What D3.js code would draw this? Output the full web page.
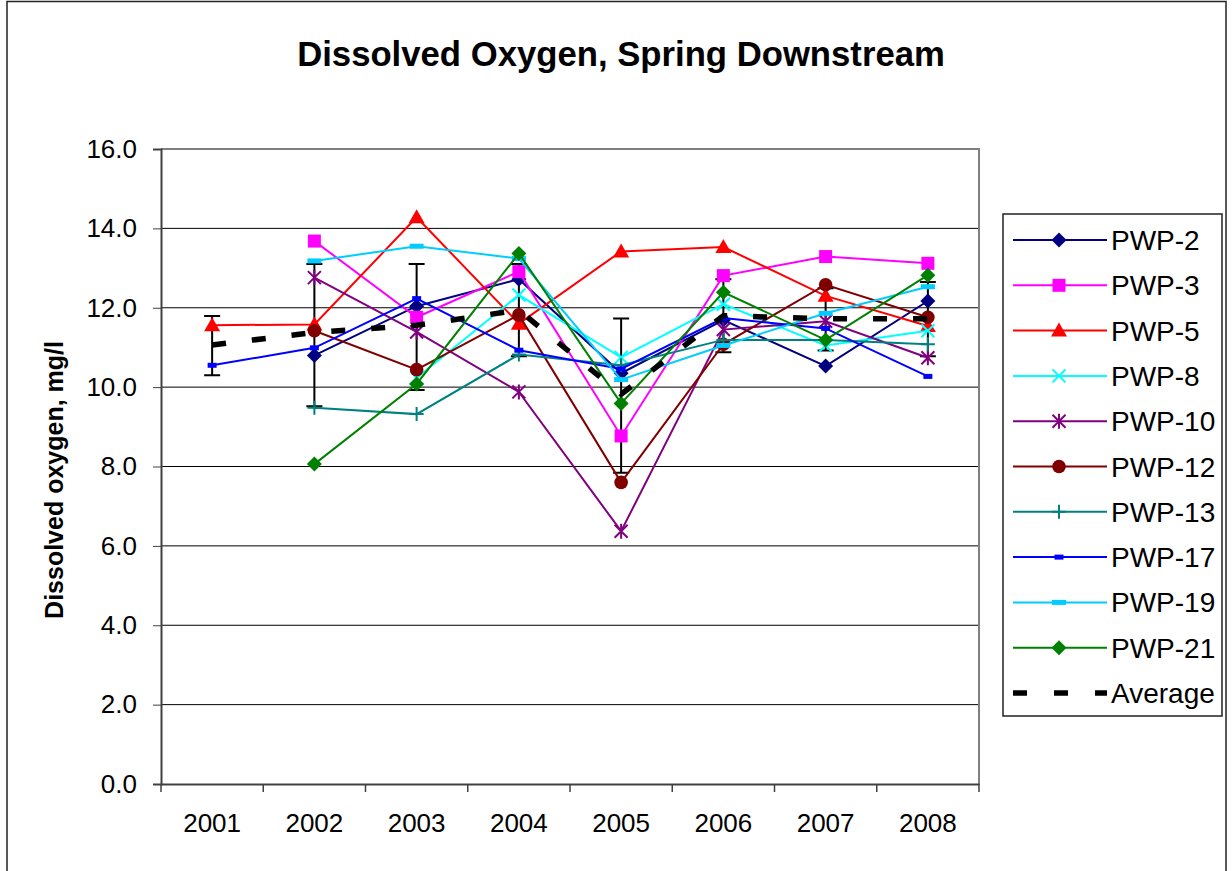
<!DOCTYPE html>
<meta charset="utf-8">
<script src="https://d3js.org/d3.v7.min.js"></script>
<style>
  body { margin: 0; background: #fff; }
  text { font-family: "Liberation Sans", Arial, sans-serif; }
</style>
<div id="chart"></div>
<script>
// data
const years = ["2001", "2002", "2003", "2004", "2005", "2006", "2007", "2008"];
const pwp2  = [null, 10.80, 12.04, 12.72, 10.35, 11.69, 10.53, 12.17];
const pwp3  = [null, 13.68, 11.76, 12.91, 8.77, 12.81, 13.29, 13.12];
const pwp5  = [11.56, 11.58, 14.28, 11.60, 13.42, 13.53, 12.30, 11.54];
const pwp8  = [null, null, 10.23, 12.32, 10.75, 12.09, 11.05, 11.42];
const pwp10 = [null, 12.76, 11.39, 9.88, 6.37, 11.45, 11.66, 10.74];
const pwp12 = [null, 11.42, 10.44, 11.82, 7.60, 11.08, 12.58, 11.76];
const pwp13 = [null, 9.48, 9.32, 10.82, 10.55, 11.19, 11.19, 11.08];
const pwp17 = [10.55, 10.99, 12.23, 10.93, 10.46, 11.74, 11.48, 10.27];
const pwp19 = [null, 13.18, 13.55, 13.24, 10.19, 11.05, 11.86, 12.53];
const pwp21 = [null, 8.06, 10.08, 13.37, 9.59, 12.39, 11.19, 12.82];
const average = [11.06, 11.38, 11.56, 11.94, 9.82, 11.80, 11.72, 11.72];
const errHigh = [11.79, 13.10, 13.10, 13.10, 11.73, 12.72, 12.49, 12.65];
const errLow  = [10.30, 9.52, 9.93, 10.78, 7.84, 10.88, 10.92, 10.78];
const yTicks = [0, 2, 4, 6, 8, 10, 12, 14, 16];

const series = [
  {name: "PWP-2",  values: pwp2,  color: "#000080", marker: "diamond"},
  {name: "PWP-3",  values: pwp3,  color: "#FF00FF", marker: "square"},
  {name: "PWP-5",  values: pwp5,  color: "#FF0000", marker: "triangle"},
  {name: "PWP-8",  values: pwp8,  color: "#00FFFF", marker: "x"},
  {name: "PWP-10", values: pwp10, color: "#800080", marker: "star"},
  {name: "PWP-12", values: pwp12, color: "#800000", marker: "circle"},
  {name: "PWP-13", values: pwp13, color: "#008080", marker: "plus"},
  {name: "PWP-17", values: pwp17, color: "#0000FF", marker: "dash"},
  {name: "PWP-19", values: pwp19, color: "#00CCFF", marker: "longdash"},
  {name: "PWP-21", values: pwp21, color: "#008000", marker: "diamond"}
];

const W = 1232, H = 871;
const plot = {left: 161, right: 979, top: 149, bottom: 784};

const svg = d3.select("#chart").append("svg")
    .attr("width", W).attr("height", H);

// outer chart border
svg.append("rect")
    .attr("x", 7).attr("y", 1.5).attr("width", 1219).attr("height", H + 10)
    .attr("fill", "none").attr("stroke", "#222").attr("stroke-width", 1.5);

const x = d3.scaleBand().domain(years).range([plot.left, plot.right]).padding(0);
const y = d3.scaleLinear().domain([0, 16]).range([plot.bottom, plot.top]);
const cx = d => x(d) + x.bandwidth() / 2;

// gridlines
svg.append("g").selectAll("line")
    .data(yTicks.filter(t => t > 0 && t < 16))
    .join("line")
    .attr("x1", plot.left).attr("x2", plot.right)
    .attr("y1", d => y(d)).attr("y2", d => y(d))
    .attr("stroke", "#000").attr("stroke-width", 1);

// plot frame top / right
svg.append("path")
    .attr("d", `M${plot.left},${plot.top}H${plot.right}V${plot.bottom}`)
    .attr("fill", "none").attr("stroke", "#808080").attr("stroke-width", 2);

// y axis
const yAxis = svg.append("g")
    .attr("transform", `translate(${plot.left},0)`)
    .call(d3.axisLeft(y).tickValues(yTicks).tickFormat(d3.format(".1f")).tickSizeOuter(0).tickSize(8).tickPadding(16));
yAxis.select(".domain").attr("stroke", "#404040").attr("stroke-width", 2);
yAxis.selectAll(".tick line").attr("stroke", "#404040");
yAxis.selectAll("text").attr("font-size", 26).attr("fill", "#000")
    .attr("font-family", "Liberation Sans, Arial, sans-serif");

// x axis, ticks between categories
const xAxis = svg.append("g")
    .attr("transform", `translate(0,${plot.bottom})`)
    .call(d3.axisBottom(x).tickSize(0).tickPadding(30));
xAxis.select(".domain").attr("stroke", "#404040").attr("stroke-width", 2);
xAxis.selectAll("text").attr("font-size", 26).attr("fill", "#000")
    .attr("font-family", "Liberation Sans, Arial, sans-serif");
xAxis.append("g").selectAll("line")
    .data(years.map(d => x(d)).concat([plot.right]))
    .join("line")
    .attr("x1", d => d).attr("x2", d => d)
    .attr("y1", 0).attr("y2", 8)
    .attr("stroke", "#404040").attr("stroke-width", 1.5);

// titles
svg.append("text")
    .attr("x", 621).attr("y", 66)
    .attr("text-anchor", "middle")
    .attr("font-size", 34.7).attr("font-weight", "bold")
    .text("Dissolved Oxygen, Spring Downstream");

svg.append("text")
    .attr("transform", "translate(63,480) rotate(-90)")
    .attr("text-anchor", "middle")
    .attr("font-size", 25).attr("font-weight", "bold")
    .text("Dissolved oxygen, mg/l");

// marker shapes
function drawMarker(g, type, color) {
  if (type === "diamond") {
    g.append("path").attr("d", "M0,-7.5L7.5,0L0,7.5L-7.5,0Z").attr("fill", color);
  } else if (type === "square") {
    g.append("rect").attr("x", -6.5).attr("y", -6.5).attr("width", 13).attr("height", 13).attr("fill", color);
  } else if (type === "triangle") {
    g.append("path").attr("d", "M0,-8L8,6L-8,6Z").attr("fill", color);
  } else if (type === "circle") {
    g.append("circle").attr("r", 6.8).attr("fill", color);
  } else if (type === "x") {
    g.append("path").attr("d", "M-6.5,-6.5L6.5,6.5M-6.5,6.5L6.5,-6.5")
        .attr("stroke", color).attr("stroke-width", 2).attr("fill", "none");
  } else if (type === "star") {
    g.append("path").attr("d", "M-6.5,-6.5L6.5,6.5M-6.5,6.5L6.5,-6.5M0,-7.5V7.5")
        .attr("stroke", color).attr("stroke-width", 2).attr("fill", "none");
  } else if (type === "plus") {
    g.append("path").attr("d", "M-7,0H7M0,-7V7")
        .attr("stroke", color).attr("stroke-width", 2).attr("fill", "none");
  } else if (type === "dash") {
    g.append("rect").attr("x", -4.5).attr("y", -2.5).attr("width", 9).attr("height", 5).attr("fill", color);
  } else if (type === "longdash") {
    g.append("rect").attr("x", -7).attr("y", -2.5).attr("width", 14).attr("height", 5).attr("fill", color);
  }
}

// error bars on the average
const eb = svg.append("g");
years.forEach((yr, i) => {
  const px = cx(yr);
  eb.append("path")
      .attr("d", `M${px},${y(errHigh[i])}V${y(errLow[i])}M${px - 8},${y(errHigh[i])}H${px + 8}M${px - 8},${y(errLow[i])}H${px + 8}`)
      .attr("stroke", "#000").attr("stroke-width", 2).attr("fill", "none");
});

// series lines and markers
const line = d3.line()
    .defined(d => d.v != null)
    .x(d => cx(d.year))
    .y(d => y(d.v));

series.forEach(s => {
  const pts = years.map((yr, i) => ({year: yr, v: s.values[i]}));
  svg.append("path")
      .datum(pts)
      .attr("d", line)
      .attr("fill", "none")
      .attr("stroke", s.color)
      .attr("stroke-width", 2);
  pts.filter(d => d.v != null).forEach(d => {
    const g = svg.append("g").attr("transform", `translate(${cx(d.year)},${y(d.v)})`);
    drawMarker(g, s.marker, s.color);
  });
});

// average dashed line
svg.append("path")
    .datum(years.map((yr, i) => ({year: yr, v: average[i]})))
    .attr("d", line)
    .attr("fill", "none")
    .attr("stroke", "#000")
    .attr("stroke-width", 5.5)
    .attr("stroke-dasharray", "14,26");

// legend
const legend = svg.append("g");
legend.append("rect")
    .attr("x", 1003).attr("y", 214).attr("width", 219).attr("height", 502)
    .attr("fill", "#fff").attr("stroke", "#222").attr("stroke-width", 1.5);

const legendItems = series.map(s => ({name: s.name, color: s.color, marker: s.marker}))
    .concat([{name: "Average", color: "#000", marker: null}]);

legendItems.forEach((d, i) => {
  const ly = 240 + i * 45.3;
  const g = legend.append("g");
  if (d.marker) {
    g.append("line").attr("x1", 1013).attr("x2", 1107).attr("y1", ly).attr("y2", ly)
        .attr("stroke", d.color).attr("stroke-width", 2);
    const m = g.append("g").attr("transform", `translate(1059,${ly})`);
    drawMarker(m, d.marker, d.color);
  } else {
    g.append("line").attr("x1", 1013).attr("x2", 1107).attr("y1", ly).attr("y2", ly)
        .attr("stroke", "#000").attr("stroke-width", 5.5).attr("stroke-dasharray", "14,27");
  }
  g.append("text")
      .attr("x", 1111).attr("y", ly + 10)
      .attr("font-size", 28)
      .text(d.name);
});
</script>
